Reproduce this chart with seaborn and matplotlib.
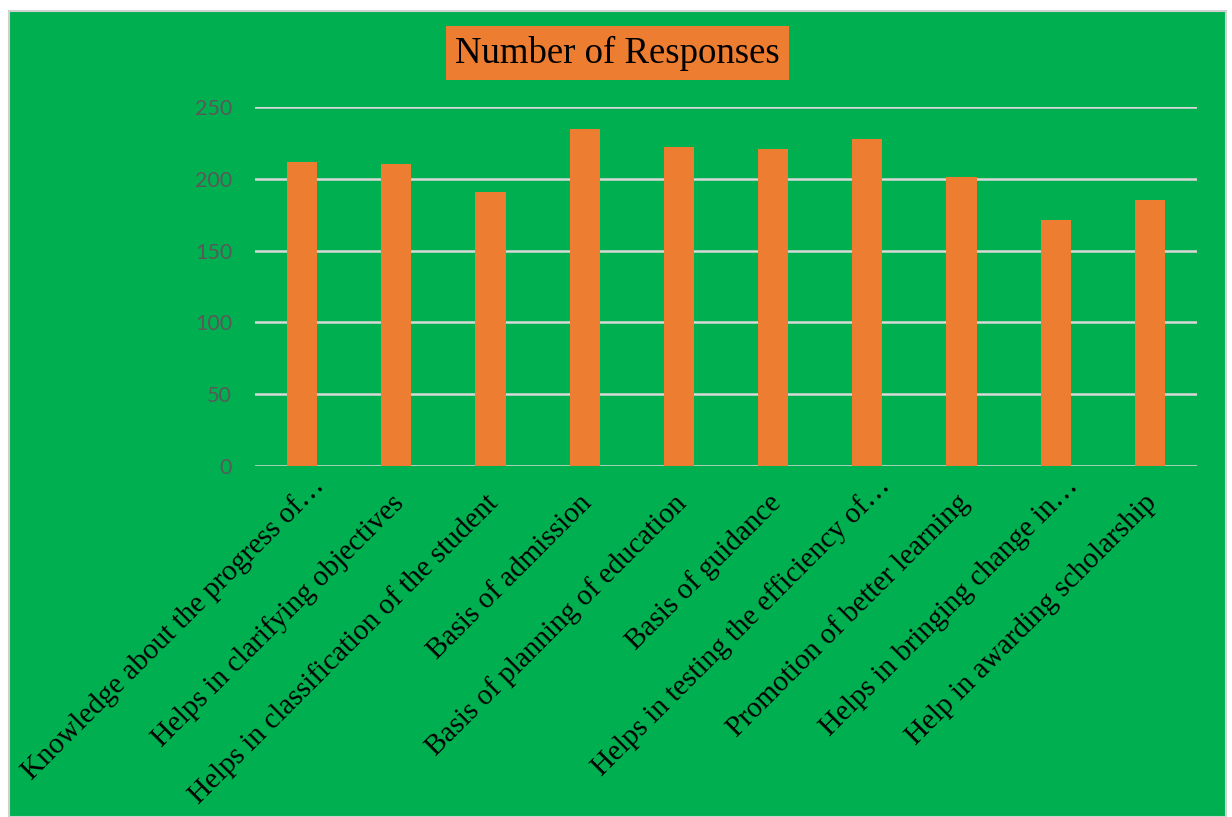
import matplotlib
matplotlib.use("Agg")
import matplotlib.pyplot as plt
from matplotlib.patches import Rectangle
from matplotlib.transforms import ScaledTranslation
import seaborn as sns
import pandas as pd

categories = [
    "Knowledge about the progress of…",
    "Helps in clarifying objectives",
    "Helps in classification of the student",
    "Basis of admission",
    "Basis of planning of education",
    "Basis of guidance",
    "Helps in testing the efficiency of…",
    "Promotion of better learning",
    "Helps in bringing change in…",
    "Help in awarding scholarship",
]
responses = [212, 210, 191, 235, 222, 221, 228, 201, 171, 185]
y_ticks = [0, 50, 100, 150, 200, 250]

GREEN = "#00B050"
ORANGE = "#ED7D31"

sns.set_theme(style="white")
plt.rcParams["font.family"] = ["Liberation Serif", "DejaVu Serif"]

W, H = 1232, 817
fig = plt.figure(figsize=(W / 100, H / 100), dpi=100, facecolor="white")

# chart area background with thin grey frame
fig.patches.append(Rectangle((9 / W, 0), (1226 - 9) / W, (H - 11) / H,
                             transform=fig.transFigure, facecolor=GREEN,
                             edgecolor="#D0D0D0", linewidth=1.5, zorder=-10))

ax = fig.add_axes([255 / W, 1 - 466 / H, (1197 - 255) / W, (466 - 107) / H])
ax.set_facecolor(GREEN)
ax.patch.set_alpha(0)

df = pd.DataFrame({"category": categories, "responses": responses})
sns.barplot(data=df, x="category", y="responses", color=ORANGE,
            saturation=1, width=0.32, linewidth=0, edgecolor=ORANGE,
            ax=ax, zorder=3)

ax.set_ylim(0, 250)
ax.set_xlim(-0.5, len(categories) - 0.5)
ax.set_yticks(y_ticks)
ax.yaxis.grid(True, color="#D9D9D9", linewidth=1.8, zorder=1)
ax.set_axisbelow(True)
for s in ax.spines.values():
    s.set_visible(False)
ax.set_xlabel("")
ax.set_ylabel("")
ax.tick_params(axis="y", length=0, pad=16.5, labelsize=15.5, labelcolor="#595959")
ax.tick_params(axis="x", length=0, pad=17)
for lab in ax.get_yticklabels():
    lab.set_fontfamily(["Lato", "DejaVu Sans"])
ax.set_xticks(range(len(categories)))
ax.set_xticklabels(categories, rotation=45, ha="right", va="top",
                   rotation_mode="anchor", fontsize=21, color="black")
# truncated labels let the ellipsis run past the tick, along the text direction
for lab in ax.get_xticklabels():
    dx, dy = -6, 0
    if lab.get_text().endswith("…"):
        dx, dy = 9, 17
    lab.set_transform(lab.get_transform()
                      + ScaledTranslation(dx / 100, dy / 100, fig.dpi_scale_trans))

fig.text((444 + 791) / 2 / W, 1 - 53 / H, "Number of Responses",
         ha="center", va="center", fontsize=26.5, color="black",
         bbox=dict(boxstyle="square,pad=0.25", facecolor=ORANGE, edgecolor="none"))

fig.savefig("out.png", dpi=100, facecolor="white")
